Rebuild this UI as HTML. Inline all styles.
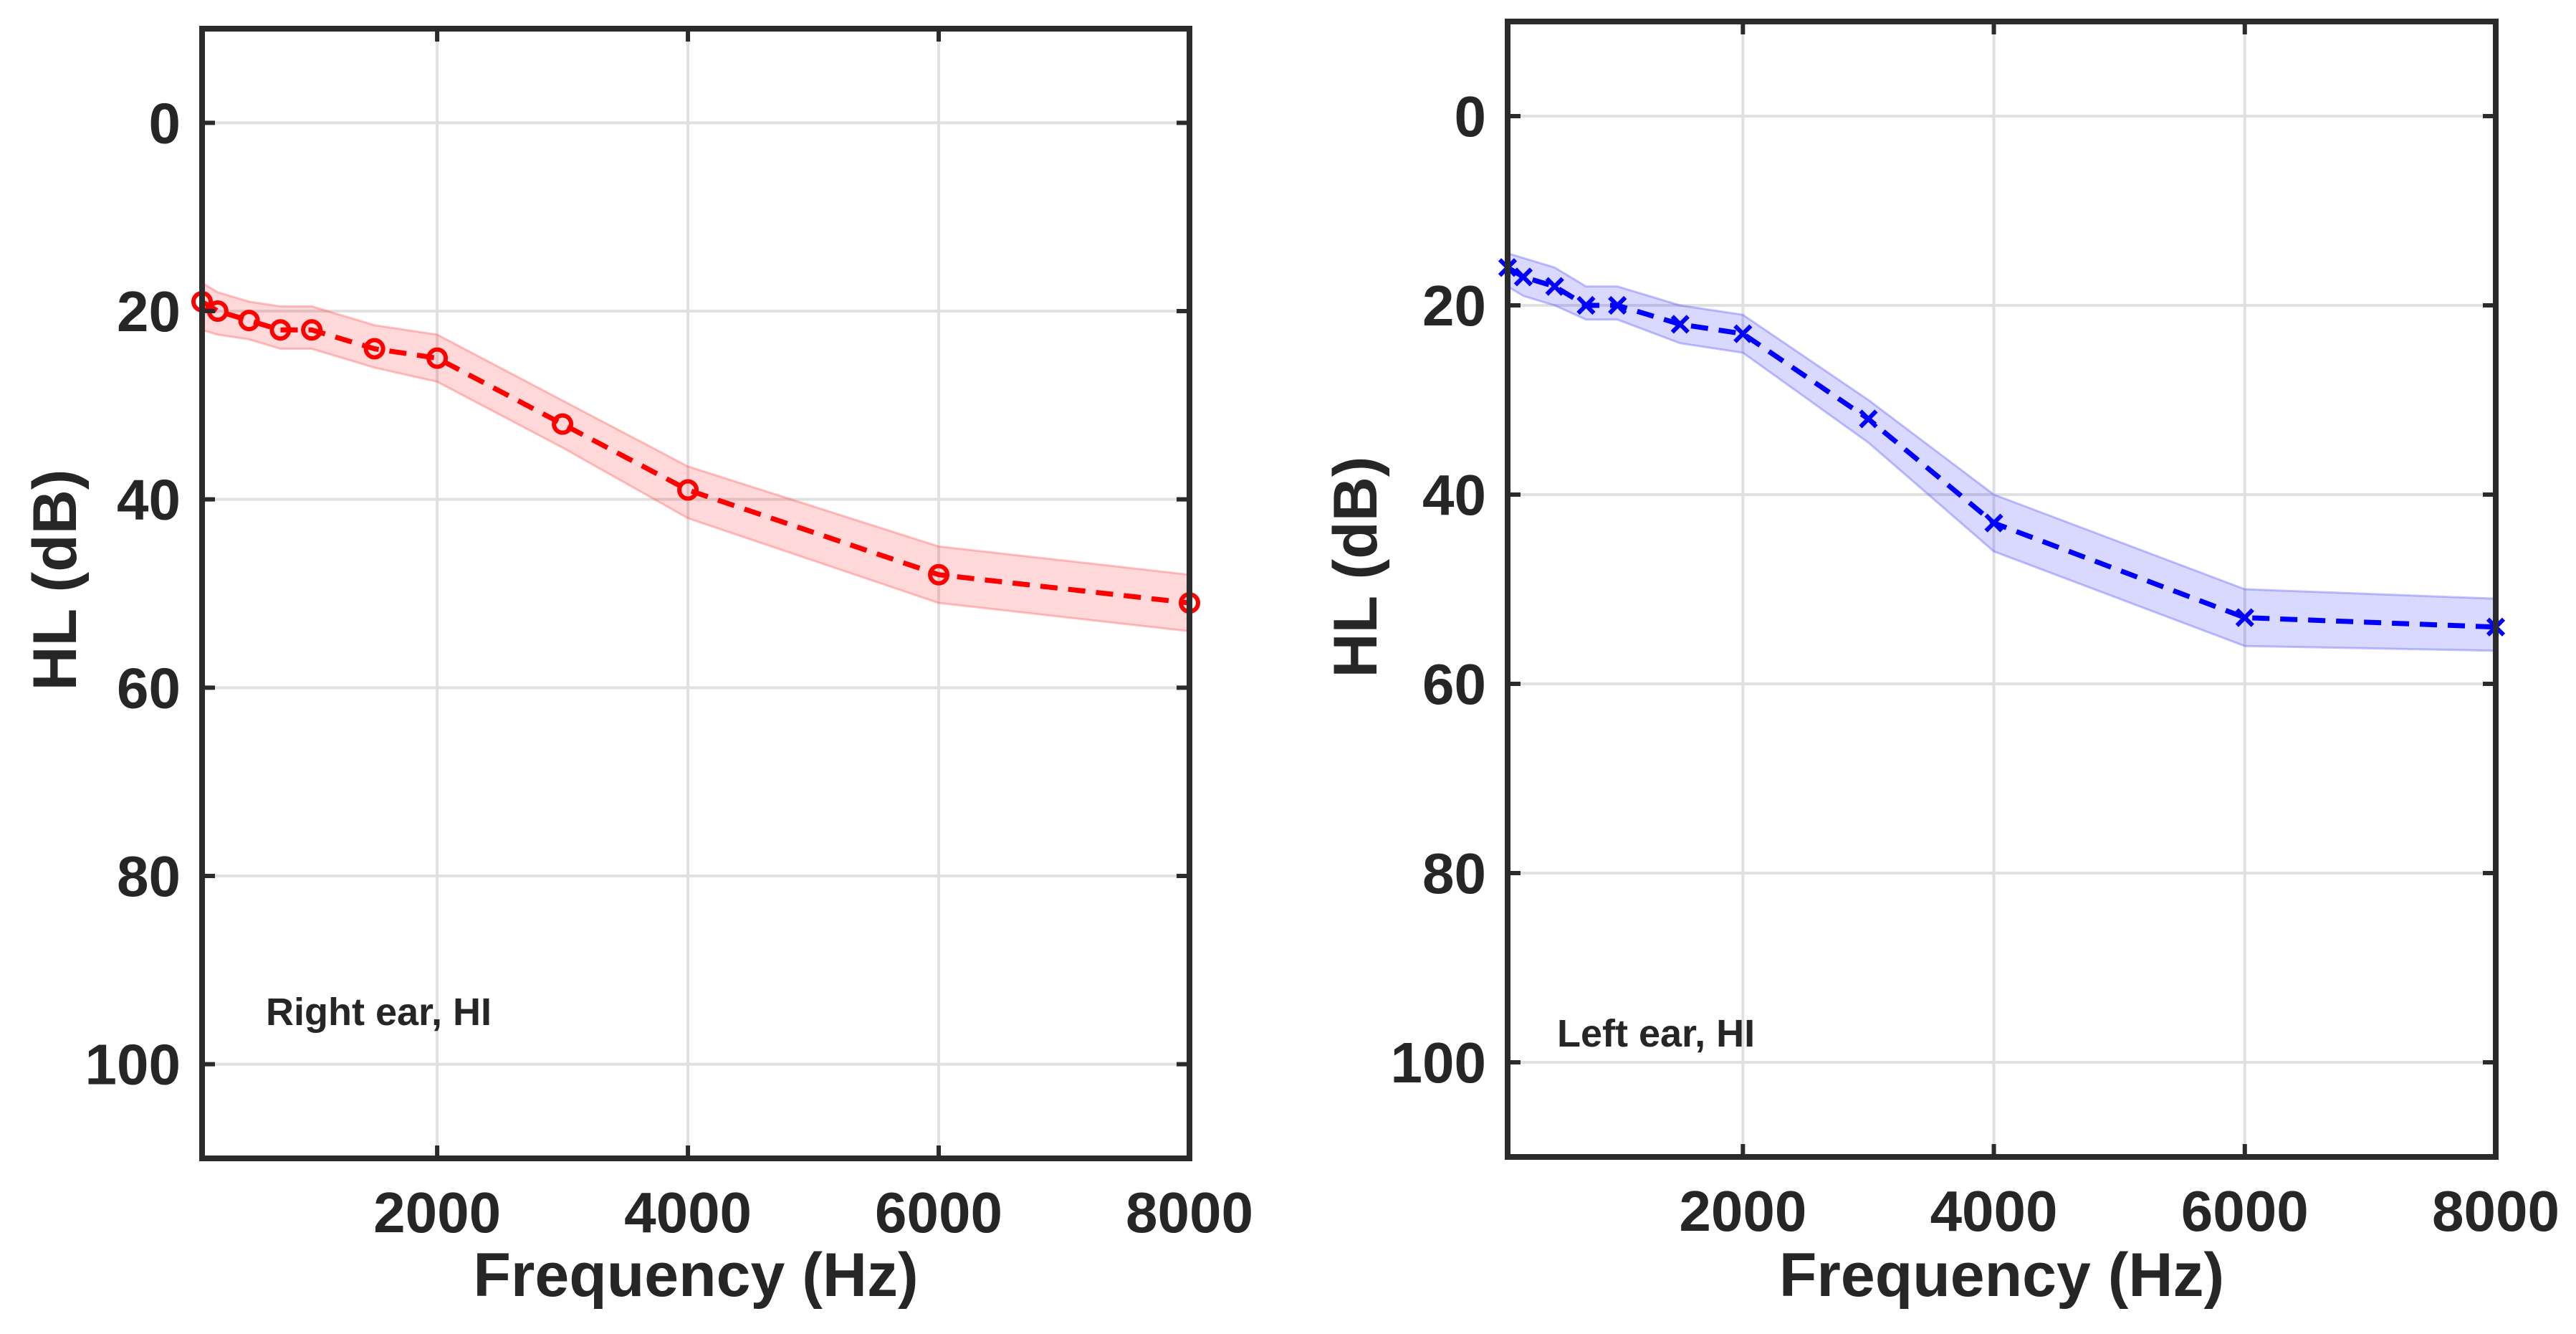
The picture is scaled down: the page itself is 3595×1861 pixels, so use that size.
<!DOCTYPE html>
<html><head><meta charset="utf-8"><style>
html,body{margin:0;padding:0;background:#fff;}
svg{display:block;}
text{font-family:"Liberation Sans",Arial,sans-serif;font-weight:bold;fill:#262626;}
</style></head><body>
<svg id="fig" width="3595" height="1861" viewBox="0 0 3595 1861" xmlns="http://www.w3.org/2000/svg"></svg>
<script>
const freqs = [125,250,500,750,1000,1500,2000,3000,4000,6000,8000];
const rightHL = [19,20,21,22,22,24,25,32,39,48,51];
const rightLow = [17,18,19,19.5,19.5,21.5,22.5,29.5,36.5,45,48];
const rightHigh = [22,22.5,23,24,24,26,27.5,34.5,42,51,54];
const leftHL = [16,17,18,20,20,22,23,32,43,53,54];
const leftLow = [14.5,15,16,18,18,20,21,30,40,50,51];
const leftHigh = [18,19,20,21.5,21.5,24,25,34.5,46,56,56.5];
const xTicks = [2000,4000,6000,8000];
const yTicks = [0,20,40,60,80,100];

const NS="http://www.w3.org/2000/svg";
const svg=document.getElementById('fig');
function mk(tag,attrs,parent){const e=document.createElementNS(NS,tag);for(const k in attrs)e.setAttribute(k,attrs[k]);(parent||svg).appendChild(e);return e;}

function panel(cfg){
  const g=mk('g',{});
  
  
  const xS=v=>cfg.x0+(v-125)/(8000-125)*(cfg.x1-cfg.x0);
  const yS=v=>cfg.yTop+(v+10)/120*(cfg.yBot-cfg.yTop);
  yTicks.forEach(t=>{const l=mk('line',{x1:cfg.x0,x2:cfg.x1,y1:yS(t),y2:yS(t),stroke:'#e0e0e0','stroke-width':4},g);
    
    });
  xTicks.forEach(t=>{const l=mk('line',{x1:xS(t),x2:xS(t),y1:cfg.yTop,y2:cfg.yBot,stroke:'#e0e0e0','stroke-width':4},g);
    
    });
  let d='';
  freqs.forEach((f,i)=>{d+=(i?'L':'M')+xS(f)+','+yS(cfg.high[i]);});
  for(let i=freqs.length-1;i>=0;i--){d+='L'+xS(freqs[i])+','+yS(cfg.low[i]);}
  d+='Z';
  const band=mk('path',{d:d,fill:cfg.band,stroke:cfg.bandEdge,'stroke-width':3},g);
  
  
  const pts=freqs.map((f,i)=>xS(f)+','+yS(cfg.vals[i])).join(' ');
  const ln=mk('polyline',{points:pts,fill:'none',stroke:cfg.color,'stroke-width':7,'stroke-dasharray':'24 15'},g);
  
  
  freqs.forEach((f,i)=>{
    const cx=xS(f),cy=yS(cfg.vals[i]);
    let m;
    if(cfg.marker==='o'){m=mk('circle',{cx:cx,cy:cy,r:12,fill:'none',stroke:cfg.color,'stroke-width':6},g);}
    else{m=mk('path',{d:`M${cx-11},${cy-11}L${cx+11},${cy+11}M${cx-11},${cy+11}L${cx+11},${cy-11}`,stroke:cfg.color,'stroke-width':6},g);}
    
    
  });
  const box=mk('rect',{x:cfg.x0,y:cfg.yTop,width:cfg.x1-cfg.x0,height:cfg.yBot-cfg.yTop,fill:'none',stroke:'#2b2b2b','stroke-width':8},g);
  
  
  yTicks.forEach(t=>{
    mk('line',{x1:cfg.x0,x2:cfg.x0+18,y1:yS(t),y2:yS(t),stroke:'#2b2b2b','stroke-width':6},g);
    mk('line',{x1:cfg.x1,x2:cfg.x1-18,y1:yS(t),y2:yS(t),stroke:'#2b2b2b','stroke-width':6},g);
    const tx=mk('text',{x:cfg.x0-30,y:yS(t)+28,'text-anchor':'end','font-size':80},g);
    tx.textContent=t;
    
    
  });
  xTicks.forEach(t=>{
    mk('line',{x1:xS(t),x2:xS(t),y1:cfg.yBot,y2:cfg.yBot-18,stroke:'#2b2b2b','stroke-width':6},g);
    mk('line',{x1:xS(t),x2:xS(t),y1:cfg.yTop,y2:cfg.yTop+18,stroke:'#2b2b2b','stroke-width':6},g);
    const tx=mk('text',{x:xS(t),y:cfg.yBot+103,'text-anchor':'middle','font-size':80},g);
    tx.textContent=t;
    
    
  });
  const xt=mk('text',{x:(cfg.x0+cfg.x1)/2,y:1808,'text-anchor':'middle','font-size':86,fill:'#333'},g);
  xt.textContent='Frequency (Hz)';
  
  
  const yt=mk('text',{x:0,y:0,'text-anchor':'middle','font-size':86,transform:`translate(${cfg.ytX},${cfg.ytY}) rotate(-90)`},g);
  yt.textContent='HL (dB)';
  
  
  const an=mk('text',{x:cfg.annX,y:cfg.annY,'font-size':54},g);
  an.textContent=cfg.ann;
  
  
}
panel({name:'right-ear-panel',x0:282,x1:1660,yTop:40,yBot:1616,vals:rightHL,low:rightLow,high:rightHigh,color:'#ff0000',band:'rgba(255,0,0,0.15)',bandEdge:'rgba(255,80,80,0.35)',marker:'o',ytX:106,ytY:809,annX:371,annY:1430,ann:'Right ear, HI'});
panel({name:'left-ear-panel',x0:2104,x1:3483,yTop:30,yBot:1614,vals:leftHL,low:leftLow,high:leftHigh,color:'#0000ff',band:'rgba(0,0,255,0.15)',bandEdge:'rgba(80,80,255,0.35)',marker:'x',ytX:1921,ytY:791,annX:2173,annY:1460,ann:'Left ear, HI'});
</script>
</body></html>
